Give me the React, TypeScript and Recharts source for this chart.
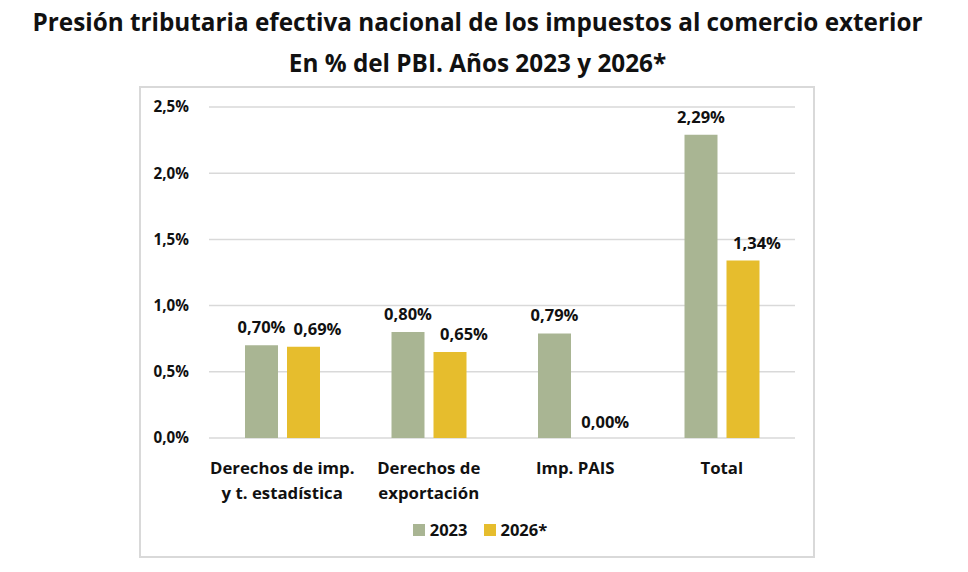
import {
  BarChart,
  Bar,
  XAxis,
  YAxis,
  CartesianGrid,
  Legend,
  LabelList,
  ReferenceDot,
} from "recharts";

const categories = [
  "Derechos de imp.\ny t. estadística",
  "Derechos de\nexportación",
  "Imp. PAIS",
  "Total",
];
const values2023 = [0.7, 0.8, 0.79, 2.29];
const values2026 = [0.69, 0.65, 0.0, 1.34];
const yTicks = [0, 0.5, 1, 1.5, 2, 2.5];

const data = categories.map((name, i) => ({
  name,
  y2023: values2023[i],
  y2026: values2026[i],
}));

const FONT = "'Open Sans', 'Noto Sans', sans-serif";
const GREEN = "#a9b593";
const YELLOW = "#e6bd2d";
const INK = "#111";

const pct = (v: number, d: number) => v.toFixed(d).replace(".", ",") + "%";

const labelStyle = { fontFamily: FONT, fontWeight: 700, fontSize: 16.5, fill: INK };

function CategoryTick({ x, y, payload }: any) {
  const lines = String(payload.value).split("\n");
  return (
    <text x={x} y={y} textAnchor="middle" fontFamily={FONT} fontWeight={700} fontSize={16.8} fill={INK}>
      {lines.map((line, i) => (
        <tspan key={i} x={x} dy={i === 0 ? 28 : 25}>
          {line}
        </tspan>
      ))}
    </text>
  );
}

function LegendContent({ payload }: any) {
  return (
    <div style={{ display: "flex", justifyContent: "center", gap: 16 }}>
      {(payload || []).map((item: any) => (
        <div key={item.value} style={{ display: "flex", alignItems: "center", gap: 5 }}>
          <span style={{ width: 12, height: 12, background: item.color, display: "inline-block" }} />
          <span style={{ color: INK, fontWeight: 700, fontSize: 16.5, fontFamily: FONT, lineHeight: "20px" }}>
            {item.value}
          </span>
        </div>
      ))}
    </div>
  );
}

// zero-height bars get no label from LabelList, so the empty 2026 bar is labelled here
const zeroIdx = values2026.findIndex((v) => v === 0);

function ZeroLabel({ cx, cy }: any) {
  return (
    <text x={cx + 30} y={cy - 10} textAnchor="middle" style={labelStyle}>
      {pct(values2026[zeroIdx], 2)}
    </text>
  );
}

export default function App() {
  return (
    <div
      style={{
        position: "absolute",
        left: 0,
        top: 0,
        width: 968,
        height: 572,
        background: "#fff",
        fontFamily: FONT,
      }}
    >
      <div
        style={{
          position: "absolute",
          left: 0,
          top: 1,
          width: 955,
          textAlign: "center",
          fontWeight: 700,
          fontSize: 24.3,
          lineHeight: "41px",
          color: INK,
        }}
      >
        Presión tributaria efectiva nacional de los impuestos al comercio exterior
        <br />
        En % del PBI. Años 2023 y 2026*
      </div>
      <div
        style={{
          position: "absolute",
          left: 139,
          top: 86,
          width: 672,
          height: 468,
          border: "2px solid #d9d9d9",
        }}
      />
      <div style={{ position: "absolute", left: 0, top: 0 }}>
        <BarChart
          width={968}
          height={572}
          data={data}
          margin={{ top: 107, right: 173, bottom: 104, left: 149 }}
          barSize={33}
          barGap={9}
        >
          <CartesianGrid vertical={false} stroke="#d9d9d9" strokeWidth={1.5} />
          <XAxis
            dataKey="name"
            axisLine={false}
            tickLine={false}
            height={30}
            interval={0}
            tick={<CategoryTick />}
          />
          <YAxis
            width={60}
            domain={[0, 2.5]}
            ticks={yTicks}
            axisLine={false}
            tickLine={false}
            tickMargin={14}
            tickFormatter={(v: number) => pct(v, 1)}
            tick={{ fontFamily: FONT, fontWeight: 700, fontSize: 15.2, fill: INK }}
          />
          <Legend
            layout="horizontal"
            verticalAlign="middle"
            align="center"
            wrapperStyle={{ top: 520, left: 0, width: 960 }}
            content={<LegendContent />}
          />
          <Bar dataKey="y2023" name="2023" fill={GREEN} isAnimationActive={false}>
            <LabelList
              dataKey="y2023"
              position="top"
              offset={12}
              formatter={(v: any) => pct(Number(v), 2)}
              style={labelStyle}
            />
          </Bar>
          <Bar dataKey="y2026" name="2026*" fill={YELLOW} isAnimationActive={false}>
            <LabelList
              dataKey="y2026"
              position="top"
              offset={12}
              dx={14}
              formatter={(v: any) => pct(Number(v), 2)}
              style={labelStyle}
            />
          </Bar>
          <ReferenceDot
            x={categories[zeroIdx]}
            y={values2026[zeroIdx]}
            r={0}
            ifOverflow="visible"
            shape={<ZeroLabel />}
          />
        </BarChart>
      </div>
    </div>
  );
}
